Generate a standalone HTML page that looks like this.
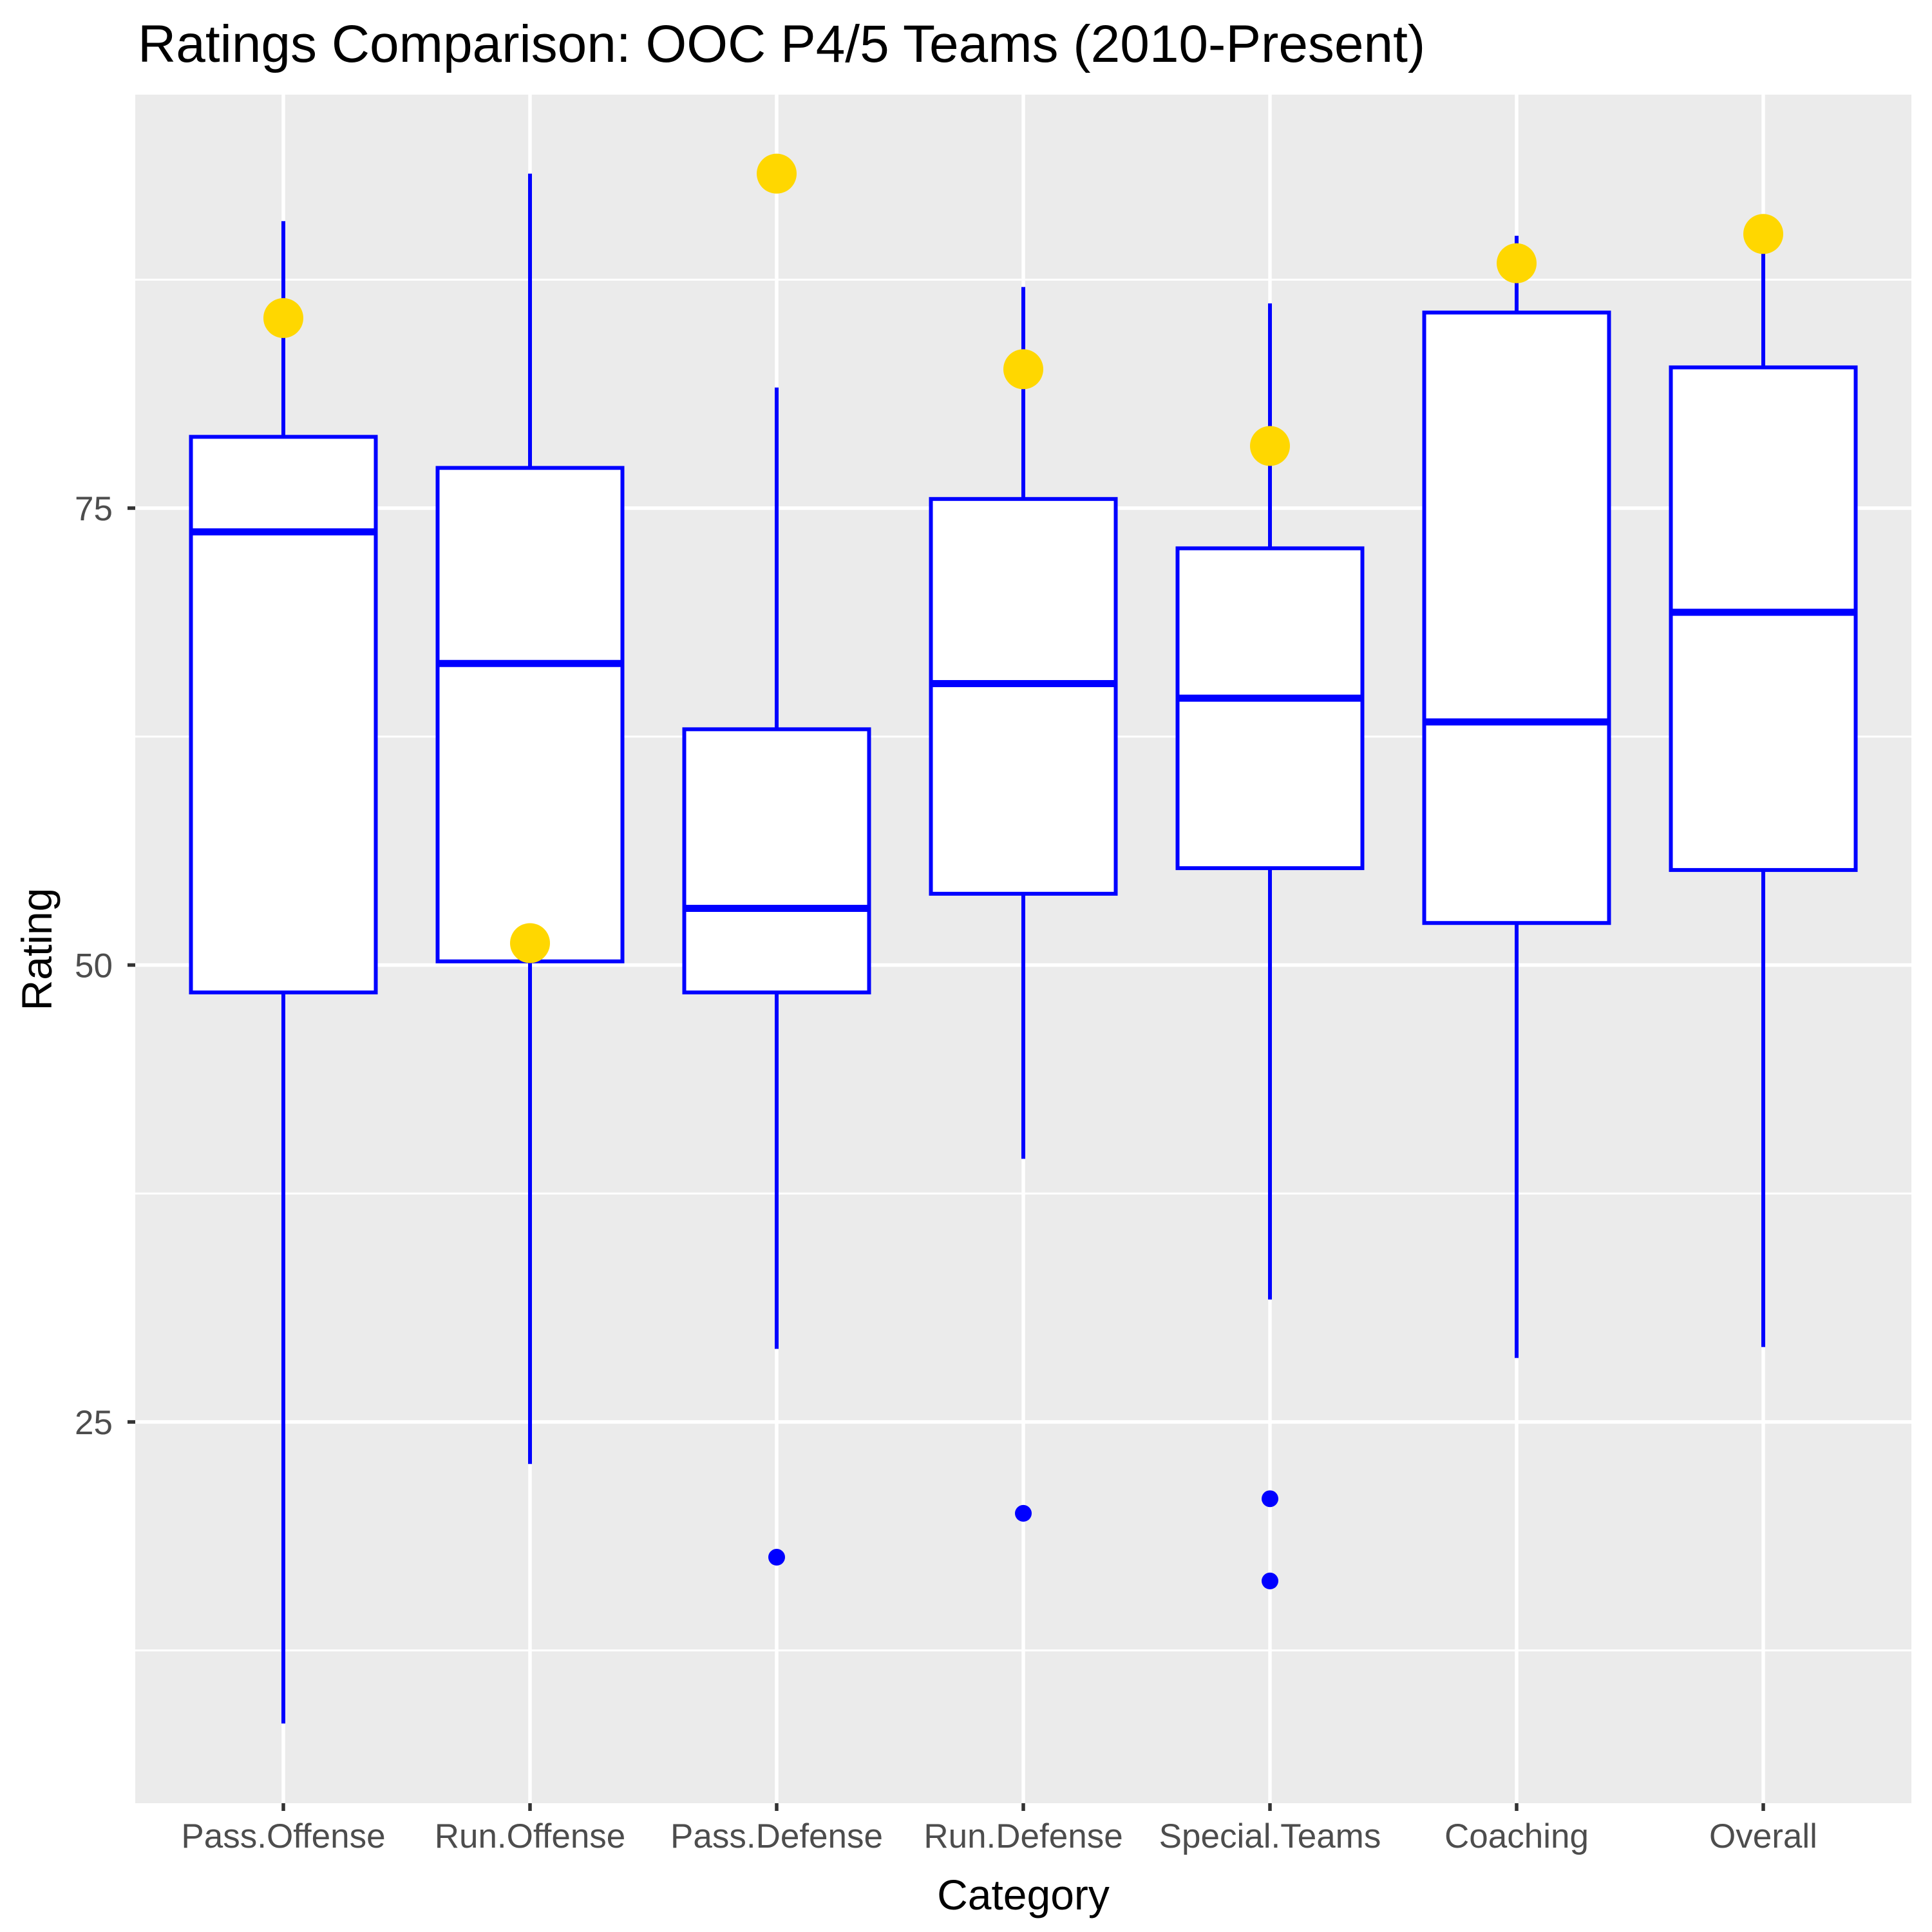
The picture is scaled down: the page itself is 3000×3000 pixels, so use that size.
<!DOCTYPE html>
<html><head><meta charset="utf-8"><style>html,body{margin:0;padding:0;background:#fff}svg{display:block}</style></head>
<body>
<svg id="chart" width="3000" height="3000" viewBox="0 0 3000 3000" xmlns="http://www.w3.org/2000/svg" font-family="Liberation Sans, Arial, sans-serif">
<rect width="3000" height="3000" fill="#fff"/>
<text x="214" y="96" font-size="82" fill="#000">Ratings Comparison: OOC P4/5 Teams (2010-Present)</text>
<g id="plot"></g>
</svg>
<script>
const categories = ["Pass.Offense","Run.Offense","Pass.Defense","Run.Defense","Special.Teams","Coaching","Overall"];
const whiskerLow = [8.5,22.7,29.0,39.4,31.7,28.5,29.1];
const q1 = [48.5,50.2,48.5,53.9,55.3,52.3,55.2];
const median = [73.7,66.5,53.1,65.4,64.6,63.3,69.3];
const q3 = [78.9,77.2,62.9,75.5,72.8,85.7,82.7];
const whiskerHigh = [90.7,93.3,81.6,87.1,86.2,89.9,89.6];
const outliers = [[],[],[17.6],[20.0],[20.8,16.3],[],[]];
const teamRating = [85.4,51.2,93.3,82.6,78.4,88.4,90.0];
const yTicks = [25,50,75];
const yMinor = [12.5,37.5,62.5,87.5];

const NS="http://www.w3.org/2000/svg";
const L=210,R=2968,T=147,B=2800;
const y=v=>789-(v-75)*28.38;
const x=i=>440+383*i;
const g=document.getElementById('plot');
function mk(tag,attrs){const e=document.createElementNS(NS,tag);for(const k in attrs)e.setAttribute(k,attrs[k]);g.appendChild(e);return e;}

let e=mk('rect',{x:L,y:T,width:R-L,height:B-T,fill:'#EBEBEB'});


yMinor.forEach(v=>{e=mk('line',{x1:L,x2:R,y1:y(v),y2:y(v),stroke:'#fff','stroke-width':3});

});
yTicks.forEach(v=>{e=mk('line',{x1:L,x2:R,y1:y(v),y2:y(v),stroke:'#fff','stroke-width':5.5});


e=mk('line',{x1:L-12,x2:L,y1:y(v),y2:y(v),stroke:'#333','stroke-width':5.5});


e=mk('text',{x:175,y:y(v)+19,'font-size':53,fill:'#4D4D4D','text-anchor':'end'});e.textContent=v;

});
categories.forEach((c,i)=>{e=mk('line',{x1:x(i),x2:x(i),y1:T,y2:B,stroke:'#fff','stroke-width':5.5});


e=mk('line',{x1:x(i),x2:x(i),y1:B,y2:B+12,stroke:'#333','stroke-width':5.5});


e=mk('text',{x:x(i),y:2869,'font-size':53,fill:'#4D4D4D','text-anchor':'middle'});e.textContent=c;

});
const hw=143.5;
categories.forEach((c,i)=>{
 e=mk('line',{x1:x(i),x2:x(i),y1:y(whiskerHigh[i]),y2:y(q3[i]),stroke:'#00f','stroke-width':6});
 
 
 e=mk('line',{x1:x(i),x2:x(i),y1:y(q1[i]),y2:y(whiskerLow[i]),stroke:'#00f','stroke-width':6});
 
 
 e=mk('rect',{x:x(i)-hw,y:y(q3[i]),width:2*hw,height:y(q1[i])-y(q3[i]),fill:'#fff',stroke:'#00f','stroke-width':6});
 
 
 e=mk('line',{x1:x(i)-hw,x2:x(i)+hw,y1:y(median[i]),y2:y(median[i]),stroke:'#00f','stroke-width':11});
 
 
 outliers[i].forEach(v=>{e=mk('circle',{cx:x(i),cy:y(v),r:13,fill:'#00f'});
 
 });
 e=mk('circle',{cx:x(i),cy:y(teamRating[i]),r:31,fill:'#FFD700'});
 
 
});
e=mk('text',{x:1589,y:2965,'font-size':66,fill:'#000','text-anchor':'middle'});e.textContent='Category';


e=mk('text',{x:0,y:0,'font-size':66,fill:'#000','text-anchor':'middle',transform:'translate(80,1474) rotate(-90)'});e.textContent='Rating';


</script>
</body></html>
